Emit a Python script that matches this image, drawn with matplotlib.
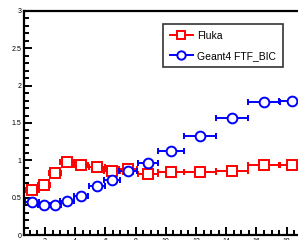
import matplotlib
matplotlib.use("Agg")
import matplotlib.pyplot as plt
from matplotlib.ticker import MultipleLocator
from matplotlib.lines import Line2D

plt.rcParams['font.family'] = ['Liberation Sans', 'DejaVu Sans']

# data
x = [1.14, 1.93, 2.66, 3.46, 4.38, 5.44, 6.44, 7.50, 8.82, 10.34, 12.26, 14.38, 16.50, 18.36]
xerr = [0.46, 0.40, 0.40, 0.46, 0.46, 0.53, 0.53, 0.60, 0.66, 0.86, 1.06, 1.06, 1.06, 0.86]
fluka = [0.61, 0.675, 0.835, 0.98, 0.94, 0.915, 0.86, 0.89, 0.82, 0.85, 0.85, 0.86, 0.94, 0.94]
geant4 = [0.45, 0.41, 0.41, 0.46, 0.53, 0.66, 0.74, 0.86, 0.97, 1.13, 1.32, 1.57, 1.78, 1.80]
labels = ['Fluka', 'Geant4 FTF_BIC']

fig = plt.figure(figsize=(2.98, 2.40), dpi=100)
ax = fig.add_axes([0.0805, 0.019, 0.933, 0.937])

ax.errorbar(x, fluka, xerr=xerr, fmt='s', color='red', mfc='white', mec='red',
            ms=7, mew=1.4, elinewidth=1.4, capsize=2, capthick=1.4)
ax.errorbar(x, geant4, xerr=xerr, fmt='o', color='blue', mfc='white', mec='blue',
            ms=7, mew=1.4, elinewidth=1.4, capsize=2, capthick=1.4)

ax.set_xlim(0.61, 19.02)
ax.set_ylim(0, 3)
ax.xaxis.set_major_locator(MultipleLocator(2))
ax.xaxis.set_minor_locator(MultipleLocator(0.5))
ax.yaxis.set_minor_locator(MultipleLocator(0.1))
ax.set_yticks([0, 0.5, 1, 1.5, 2, 2.5, 3])
ax.set_yticklabels(['0', '0.5', '1', '1.5', '2', '2.5', '3'])

ax.tick_params(which='both', direction='in', width=1.4, labelsize=5, top=False, right=False)
ax.tick_params(which='major', length=6, pad=2)
ax.tick_params(which='minor', length=3.5)
for s in ax.spines.values():
    s.set_linewidth(1.6)

handles = [
    Line2D([], [], color='red', lw=1.4, marker='s', ms=6, mfc='white', mec='red', mew=1.4),
    Line2D([], [], color='blue', lw=1.4, marker='o', ms=6, mfc='white', mec='blue', mew=1.4),
]
leg = ax.legend(handles, labels, loc='upper left', bbox_to_anchor=(0.5, 0.94), fontsize=7.5,
                frameon=True, fancybox=False, edgecolor='black', borderpad=0.65,
                borderaxespad=0, handlelength=2.2, labelspacing=0.95, handletextpad=0.45)
leg.get_frame().set_linewidth(1.2)

fig.savefig('out.png', dpi=100)
